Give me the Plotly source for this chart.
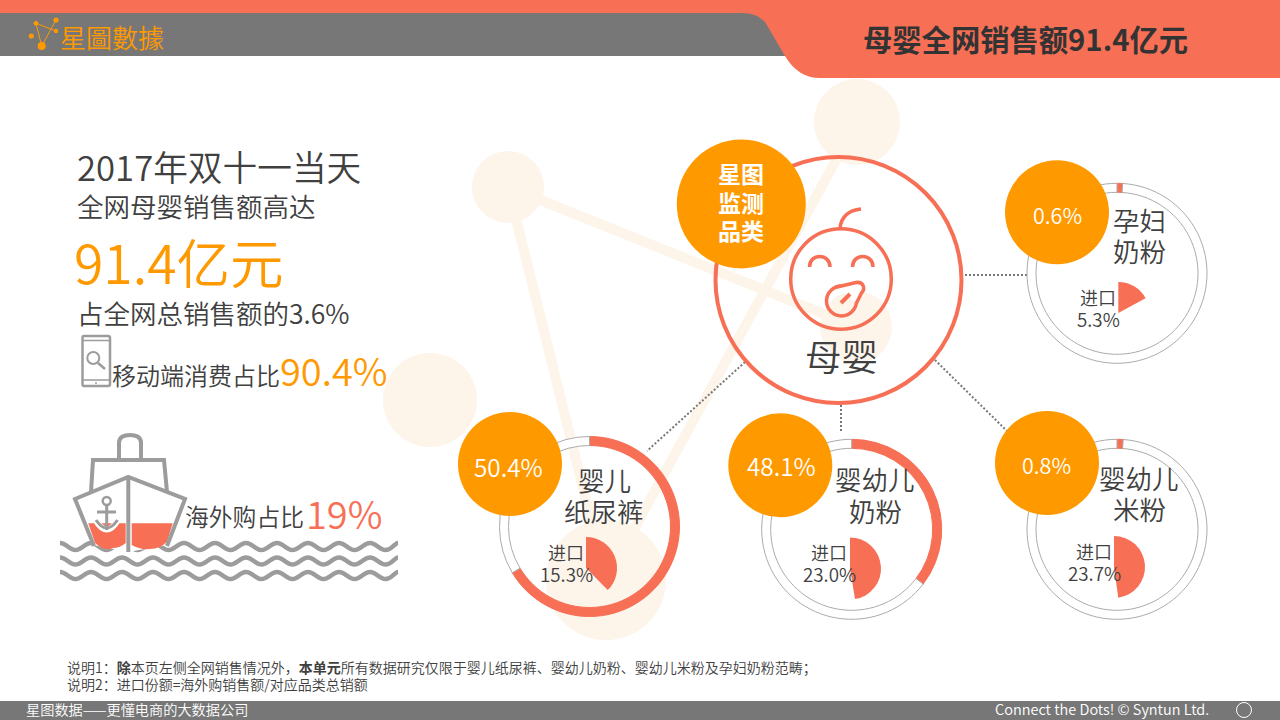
import plotly.graph_objects as go

# chart values
categories = [["婴儿", "纸尿裤"], ["婴幼儿", "奶粉"], ["婴幼儿", "米粉"], ["孕妇", "奶粉"]]
share_labels = ["50.4%", "48.1%", "0.8%", "0.6%"]
import_labels = ["15.3%", "23.0%", "23.7%", "5.3%"]
# the arcs in the picture are not drawn to the printed numbers, so they are read separately
ring_arc_pct = [66.4, 35.4, 1.1, 1.0]
import_arc_pct = [37.6, 47.4, 47.8, 17.1]

CORAL = "#F76F55"
ORANGE = "#FF9900"
PEACH = "#FDF4EA"
GREY = "#777777"
ICON = "#9C9C9C"
INK = "#404040"
FONT = "Noto Sans CJK SC"

# layout in page pixels, same order as categories
ring_xy = [(589.5, 526.5), (851.7, 529.3), (1117, 529.3), (1117, 273.3)]
sector_xy = [(586, 568), (850, 568.5), (1114, 567), (1118.3, 313)]
badge_xy = [(510, 464), (780.3, 465.3), (1047, 463), (1057, 212.3)]
name_xy = [(604, 481, 512), (875, 480, 512), (1139, 479, 510), (1139, 221, 252)]
import_xy = [(566, 553, 575), (829, 553, 575), (1094, 552, 574), (1098, 298, 320)]
badge_text_xy = [(508, 468, 24.3), (781.5, 467, 24.3), (1046.5, 466, 21.5), (1057, 216, 21.5)]

shapes = []
annotations = []


def circle(cx, cy, r, fill="rgba(0,0,0,0)", line=None, width=0, layer="below"):
    shapes.append(dict(type="circle", xref="x", yref="y", x0=cx - r, x1=cx + r, y0=cy - r, y1=cy + r,
                       fillcolor=fill, line=dict(color=line or "rgba(0,0,0,0)", width=width), layer=layer))


def path(d, fill="rgba(0,0,0,0)", line=None, width=0, layer="below", dash=None):
    shapes.append(dict(type="path", xref="x", yref="y", path=d, fillcolor=fill,
                       line=dict(color=line or "rgba(0,0,0,0)", width=width, dash=dash), layer=layer))


def label(x, y, text, size, color=INK, anchor="center", family=FONT, weight=350):
    # annotations sit a little low against the reference baseline
    y = y - size * 0.075
    if anchor == "left":
        x = x - 1
    annotations.append(dict(x=x, y=y, xref="x", yref="y", text=text, showarrow=False, xanchor=anchor,
                            yanchor="middle", borderpad=0, borderwidth=0,
                            font=dict(size=size, color=color, family=family, weight=weight)))


def wave(y, x0=60, x1=398, a=3.6, h=15.5):
    d = f"M {x0} {y - a}"
    x = x0
    s = 1
    while x < x1:
        nx = min(x + h, x1)
        d += f" C {x + h * 0.4} {y - a * s} {x + h * 0.6} {y + a * s} {nx} {y + a * s}"
        x = nx
        s = -s
    return d


# background network
for x0, y0, x1, y1 in [(508, 187, 856, 327), (508, 187, 606, 580), (857, 122, 606, 580)]:
    path(f"M {x0} {y0} L {x1} {y1}", line=PEACH, width=10)
for cx, cy, r in [(857, 122, 43), (508, 187, 36), (430, 400, 47), (856, 327, 36), (606, 580, 60)]:
    circle(cx, cy, r, fill=PEACH)

# header and footer bars
path("M 0 0 L 1280 0 L 1280 13 L 0 13 Z", fill=CORAL)
path("M 0 13 L 800 13 L 800 56 L 0 56 Z", fill=GREY)
path("M 742 13 Q 757 13 765 22 L 785 56 Q 798 78 820 78 L 1280 78 L 1280 0 L 742 0 Z", fill=CORAL)
path("M 0 701 L 1280 701 L 1280 720 L 0 720 Z", fill=GREY)
circle(1244, 710, 7.5, line="white", width=1)

# logo
for x0, y0, x1, y1 in [(36, 23.3, 41.7, 46), (41.7, 46, 56, 20), (36, 23.3, 56, 31)]:
    path(f"M {x0} {y0} L {x1} {y1}", line=ORANGE, width=1)
for cx, cy, r in [(41.7, 46, 4), (31.3, 36, 2.6), (36, 23.3, 2.4), (56, 20, 2.6), (56, 31, 2.2)]:
    circle(cx, cy, r, fill=ORANGE)

# connectors
for x0, y0, x1, y1 in [(965, 275, 1028, 275), (745, 362, 647, 451), (841, 405, 841, 433), (935, 360, 1007, 431)]:
    path(f"M {x0} {y0} L {x1} {y1}", line=GREY, width=2, dash="2px,2px")

# main circle and baby
circle(838.5, 280, 123, line=CORAL, width=4)
circle(841, 279, 50.3, line=CORAL, width=3.5)
path("M 840 228 Q 842 211 861 209", line=CORAL, width=3.5)
path("M 809.5 267 C 809.5 253 830 253 830 267", line=CORAL, width=3.5)
path("M 852.5 267 C 852.5 253 873 253 873 267", line=CORAL, width=3.5)
# pacifier: ring, then a white wedge with its two edges and cap over it
circle(841.5, 301, 15, line=CORAL, width=3.5)
path("M 835 287.5 L 856 282.5 C 863 281.5 866 288 861.5 293 L 856.5 303 Z", fill="white")
path("M 835 287.5 L 856 282.5 C 863 281.5 866 288 861.5 293 L 856.5 303", line=CORAL, width=3.5)
path("M 841 303 L 850 294", line=CORAL, width=4)

# phone icon
path("M 84 336 L 108 336 Q 110 336 110 338 L 110 384 Q 110 386 108 386 L 84 386 Q 82.5 386 82.5 384 "
     "L 82.5 338 Q 82.5 336 84 336 Z", line=ICON, width=2.5)
path("M 82.5 340.5 L 110 340.5 M 82.5 380 L 110 380", line=ICON, width=1.5)
circle(93.3, 358, 6, line=ICON, width=2)
path("M 98 363 L 105 369", line=ICON, width=2.5)
circle(96, 383, 1, fill=ICON)

# ship, waves first so the hull sits on them
for y in [546.5, 561, 575.5]:
    path(wave(y), line=ICON, width=4.5)
path("M 119 458 L 119 443 Q 119 435 130 435 Q 141 435 141 443 L 141 458", line=ICON, width=4)
path("M 91 492 L 93 460 L 164 460 L 167 492", line=ICON, width=4)
path("M 128.3 477 L 75 499 L 93 545 L 128 552 L 167 545 L 185 499 Z", fill="white", line=None)
path("M 88.3 523.3 L 125.7 523.3 L 125.7 543 Q 120 548 113 548 Q 105 552 95 543 Z", fill=CORAL)
path("M 131.7 523.3 L 172.7 523.3 L 167 541.7 Q 160 549 150 549 Q 140 550 131.7 545 Z", fill=CORAL)
path("M 94 546 L 75 499 L 128.3 477 L 185 499 L 167 546", line=ICON, width=4)
path("M 128.3 477 L 128.3 552", line=ICON, width=4)
path("M 95 519 Q 106.7 540 118.5 519", line="white", width=6)
path("M 96 520 Q 106.7 536 117.5 520", line=ICON, width=3)
path("M 106.7 505 L 106.7 530 M 97 512 L 116 512", line=ICON, width=3)
circle(106.7, 501, 4, line=ICON, width=2.5, fill="white")

# badges, above the rings
circle(741.3, 204, 64.5, fill=ORANGE, layer="above")
for cx, cy in badge_xy:
    circle(cx, cy, 52, fill=ORANGE, layer="above")

# text
label(864, 40, "母婴全网销售额91.4亿元", 29.3, color="#333333", anchor="left", weight=700)
label(61, 38, "星圖數據", 26, color=ORANGE, anchor="left", family="Noto Sans CJK TC")
label(78, 169, "2017年双十一当天", 34.7, anchor="left")
label(78, 207, "全网母婴销售额高达", 26.5, anchor="left")
label(75, 265, "91.4亿元", 53.5, color=ORANGE, anchor="left")
label(78, 314, "占全网总销售额的3.6%", 26.5, anchor="left")
label(113, 376, "移动端消费占比", 24, anchor="left")
label(281, 372, "90.4%", 38, color=ORANGE, anchor="left")
label(186, 517, "海外购占比", 23.8, anchor="left")
label(307, 515, "19%", 38, color=CORAL, anchor="left")
label(841, 358, "母婴", 36.5)
for y, t in zip([175, 204, 232], ["星图", "监测", "品类"]):
    label(741.3, y, t, 23, color="white", weight=700)
for (x, y1, y2), names in zip(name_xy, categories):
    label(x, y1, names[0], 26.5)
    label(x, y2, names[1], 26.5)
for (x, y1, y2), t in zip(import_xy, import_labels):
    label(x, y1, "进口", 18)
    label(x, y2, t, 18.8)
for (x, y, s), t in zip(badge_text_xy, share_labels):
    label(x, y, t, s, color="white")
label(68, 668, "说明1：<b>除</b>本页左侧全网销售情况外，<b>本单元</b>所有数据研究仅限于婴儿纸尿裤、婴幼儿奶粉、婴幼儿米粉及孕妇奶粉范畴；",
      14, anchor="left")
label(68, 685, "说明2：进口份额=海外购销售额/对应品类总销额", 14, anchor="left")
label(27, 710, "星图数据——更懂电商的大数据公司", 14.2, color="white", anchor="left")
label(996, 710, "Connect the Dots! © Syntun Ltd.", 14.5, color="white", anchor="left")

fig = go.Figure()
# keeps the pixel axes alive, draws nothing
fig.add_trace(go.Scatter(x=[0, 1280], y=[0, 720], mode="none", showlegend=False, hoverinfo="skip"))


def pie_domain(cx, cy, r):
    return dict(x=[(cx - r) / 1280, (cx + r) / 1280], y=[1 - (cy + r) / 720, 1 - (cy - r) / 720])


for (cx, cy), arc in zip(ring_xy, ring_arc_pct):
    fig.add_trace(go.Pie(values=[arc, 100 - arc], domain=pie_domain(cx, cy, 90), hole=0.9, sort=False,
                         direction="clockwise", rotation=0, textinfo="none", hoverinfo="skip", showlegend=False,
                         marker=dict(colors=[CORAL, "white"], line=dict(color=[CORAL, "#ABABAB"], width=1))))
for (cx, cy), arc in zip(sector_xy, import_arc_pct):
    fig.add_trace(go.Pie(values=[arc, 100 - arc], domain=pie_domain(cx, cy, 31), sort=False,
                         direction="clockwise", rotation=0, textinfo="none", hoverinfo="skip", showlegend=False,
                         marker=dict(colors=[CORAL, "rgba(0,0,0,0)"], line=dict(width=0))))

fig.update_layout(
    width=1280, height=720, margin=dict(l=0, r=0, t=0, b=0), paper_bgcolor="white", plot_bgcolor="rgba(0,0,0,0)",
    xaxis=dict(range=[0, 1280], visible=False, fixedrange=True),
    yaxis=dict(range=[720, 0], visible=False, fixedrange=True),
    shapes=shapes, annotations=annotations, font=dict(family=FONT), showlegend=False,
)

# the page body has a default 8px margin
fig.write_html("out.html", config={"displayModeBar": False},
               post_script="document.body.style.margin='0';document.body.style.overflow='hidden';")
